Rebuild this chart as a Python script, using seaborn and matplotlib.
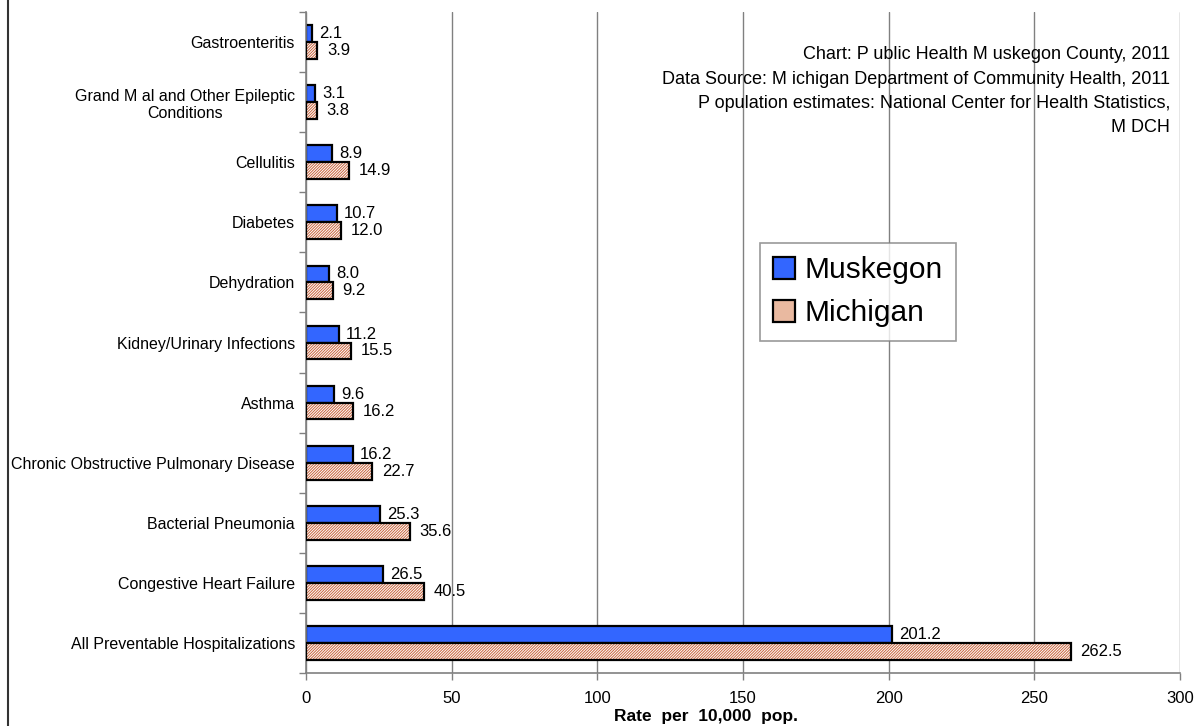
import pandas as pd
import matplotlib.pyplot as plt
import seaborn as sns
from matplotlib.patches import Rectangle, Patch
from matplotlib.lines import Line2D

# Preventable hospitalization rates, 2011
conditions = [
    "Gastroenteritis",
    "Grand M al and Other Epileptic\nConditions",
    "Cellulitis",
    "Diabetes",
    "Dehydration",
    "Kidney/Urinary Infections",
    "Asthma",
    "Chronic Obstructive Pulmonary Disease",
    "Bacterial Pneumonia",
    "Congestive Heart Failure",
    "All Preventable Hospitalizations",
]
muskegon = [2.1, 3.1, 8.9, 10.7, 8.0, 11.2, 9.6, 16.2, 25.3, 26.5, 201.2]
michigan = [3.9, 3.8, 14.9, 12.0, 9.2, 15.5, 16.2, 22.7, 35.6, 40.5, 262.5]
x_ticks = [0, 50, 100, 150, 200, 250, 300]

df = pd.DataFrame({
    "condition": conditions * 2,
    "rate": muskegon + michigan,
    "area": ["Muskegon"] * len(conditions) + ["Michigan"] * len(conditions),
})

sns.set_style("white")
plt.rcParams["font.family"] = ["Liberation Sans", "DejaVu Sans"]
plt.rcParams["hatch.linewidth"] = 0.7
for key in ["text.color", "axes.labelcolor", "xtick.labelcolor", "ytick.labelcolor"]:
    plt.rcParams[key] = "black"

fig = plt.figure(figsize=(11.98, 7.26), dpi=100)
ax = fig.add_axes([306 / 1198, 53 / 726, 874 / 1198, 661 / 726])

sns.barplot(data=df, y="condition", x="rate", hue="area", orient="h",
            hue_order=["Muskegon", "Michigan"],
            palette={"Muskegon": "#3366FF", "Michigan": "white"},
            saturation=1, width=0.56, edgecolor="black", linewidth=1.6,
            ax=ax, legend=False)

# hatch the Michigan bars in brown, then outline them in black
mus_bars, mich_bars = ax.containers[0], ax.containers[1]
for p in mich_bars.patches:
    p.set_hatch("/" * 12)
    p.set_edgecolor("#C8643C")
    p.set_linewidth(0)
    ax.add_patch(Rectangle(p.get_xy(), p.get_width(), p.get_height(),
                           fill=False, edgecolor="black", linewidth=1.6, zorder=3))

ax.bar_label(mus_bars, fmt="%.1f", padding=5, fontsize=12)
ax.bar_label(mich_bars, fmt="%.1f", padding=7, fontsize=12)

ax.set_xlim(0, 300)
ax.set_ylim(len(conditions) - 0.5, -0.5)
ax.set_xticks(x_ticks)
ax.tick_params(axis="x", labelsize=12, length=5, width=1, color="#808080",
               direction="out", bottom=True, pad=8)
ax.tick_params(axis="y", labelsize=11.5, length=0, pad=8)
for lbl in ax.get_yticklabels():
    lbl.set_multialignment("center")
ax.set_yticks([i - 0.5 for i in range(len(conditions) + 1)], minor=True)
ax.tick_params(axis="y", which="minor", length=5, width=1, color="#808080", left=True)
ax.grid(axis="x", color="#808080", linewidth=1)
ax.set_axisbelow(True)

for side in ["top", "right"]:
    ax.spines[side].set_visible(False)
for side in ["left", "bottom"]:
    ax.spines[side].set_color("#808080")
    ax.spines[side].set_linewidth(1.2)

ax.set_ylabel("")
ax.set_xlabel("Rate  per  10,000  pop.", fontsize=12.5, fontweight="bold")
ax.xaxis.set_label_coords(0.458, -0.055)

ax.text(0.9886, 0.948,
        "Chart: P ublic Health M uskegon County, 2011\n"
        "Data Source: M ichigan Department of Community Health, 2011\n"
        "P opulation estimates: National Center for Health Statistics,\n"
        "M DCH",
        transform=ax.transAxes, ha="right", va="top", fontsize=13,
        linespacing=1.55)

handles = [Patch(facecolor="#3366FF", edgecolor="black", linewidth=1.6),
           Patch(facecolor="#E9B9A0", edgecolor="black", linewidth=1.6)]
leg = ax.legend(handles, ["Muskegon", "Michigan"], loc="upper left",
                bbox_to_anchor=(0.519, 0.6505), borderaxespad=0, fontsize=21.5,
                frameon=True, fancybox=False, edgecolor="#808080",
                handlelength=0.75, handleheight=0.75, handletextpad=0.3,
                borderpad=0.45, labelspacing=0.5)
leg.get_frame().set_linewidth(1.2)

fig.add_artist(Line2D([7.5 / 1198] * 2, [0, 1], transform=fig.transFigure,
                      color="#333333", linewidth=1.5))

plt.savefig("out.png", dpi=100)
